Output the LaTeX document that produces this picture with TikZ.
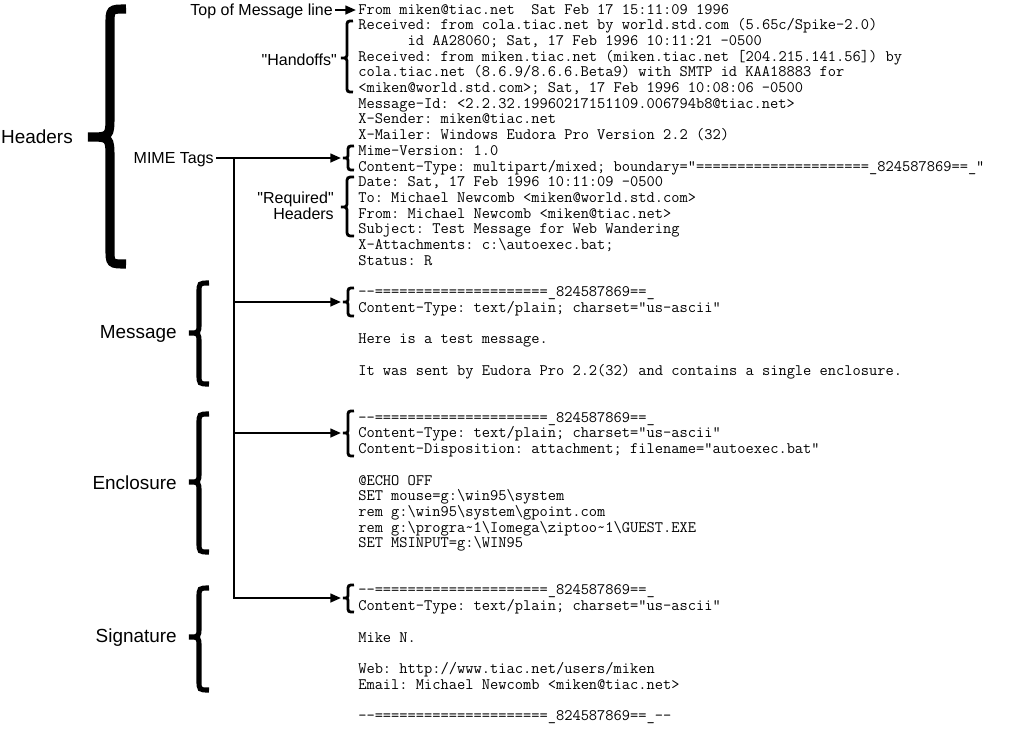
\documentclass[tikz,border=0pt]{standalone}
\usepackage{fontspec}
\setsansfont{Liberation Sans}
\usetikzlibrary{arrows.meta}
\frenchspacing
\newcommand\ml[3]{\node[mono] (#1) at (358,{14+15.7*#2}) {#3};}
% #1 style, #2 xl (tip), #3 xm (body), #4 xr (ends), #5 ytop, #6 ytip, #7 ybottom
\newcommand\mybrace[7][]{\draw[#1] (#4,#5) .. controls (#3,#5) .. (#3,{#5+#4-#3}) -- (#3,{#6-#3+#2}) .. controls (#3,#6) .. (#2,#6) .. controls (#3,#6) .. (#3,{#6+#3-#2}) -- (#3,{#7-#4+#3}) .. controls (#3,#7) .. (#4,#7);}
\tikzset{
  mono/.style={anchor=base west, inner sep=0pt, font=\ttfamily\fontsize{12}{13}\selectfont\frenchspacing},
  lab/.style={anchor=base east, inner sep=0pt, font=\sffamily\fontsize{12}{14}\selectfont},
  big/.style={anchor=base east, inner sep=0pt, font=\sffamily\fontsize{14.2}{16}\selectfont},
  conn/.style={line width=1.7pt, -{Triangle[length=8pt,width=6.5pt]}},
  bigbrace/.style={line width=6.8pt},
  midbrace/.style={line width=3.8pt},
  smallbrace/.style={line width=2.1pt}
}
\begin{document}
\begin{tikzpicture}[x=0.75pt,y=-0.75pt]
\useasboundingbox (0,0) rectangle (1021,751);
\fill[white] (0,0) rectangle (1021,751);
% mail text
\ml{l0}{0}{From miken@tiac.net\ \ Sat Feb 17 15:11:09 1996}
\ml{l1}{1}{Received: from cola.tiac.net by world.std.com (5.65c/Spike-2.0)}
\ml{l2}{2}{\phantom{123456}id AA28060; Sat, 17 Feb 1996 10:11:21 -0500}
\ml{l3}{3}{Received: from miken.tiac.net (miken.tiac.net [204.215.141.56]) by}
\ml{l4}{4}{cola.tiac.net (8.6.9/8.6.6.Beta9) with SMTP id KAA18883 for}
\ml{l5}{5}{<miken@world.std.com>; Sat, 17 Feb 1996 10:08:06 -0500}
\ml{l6}{6}{Message-Id: <2.2.32.19960217151109.006794b8@tiac.net>}
\ml{l7}{7}{X-Sender: miken@tiac.net}
\ml{l8}{8}{X-Mailer: Windows Eudora Pro Version 2.2 (32)}
\ml{l9}{9}{Mime-Version: 1.0}
\ml{l10}{10}{Content-Type: multipart/mixed; boundary="=====================\_824587869==\_"}
\ml{l11}{11}{Date: Sat, 17 Feb 1996 10:11:09 -0500}
\ml{l12}{12}{To: Michael Newcomb <miken@world.std.com>}
\ml{l13}{13}{From: Michael Newcomb <miken@tiac.net>}
\ml{l14}{14}{Subject: Test Message for Web Wandering}
\ml{l15}{15}{X-Attachments: c:\textbackslash autoexec.bat;}
\ml{l16}{16}{Status: R}
\ml{l18}{18}{--=====================\_824587869==\_}
\ml{l19}{19}{Content-Type: text/plain; charset="us-ascii"}
\ml{l21}{21}{Here is a test message.}
\ml{l23}{23}{It was sent by Eudora Pro 2.2(32) and contains a single enclosure.}
\ml{l26}{26}{--=====================\_824587869==\_}
\ml{l27}{27}{Content-Type: text/plain; charset="us-ascii"}
\ml{l28}{28}{Content-Disposition: attachment; filename="autoexec.bat"}
\ml{l30}{30}{@ECHO OFF}
\ml{l31}{31}{SET mouse=g:\textbackslash win95\textbackslash system}
\ml{l32}{32}{rem g:\textbackslash win95\textbackslash system\textbackslash gpoint.com}
\ml{l33}{33}{rem g:\textbackslash progra\textasciitilde 1\textbackslash Iomega\textbackslash ziptoo\textasciitilde 1\textbackslash GUEST.EXE}
\ml{l34}{34}{SET MSINPUT=g:\textbackslash WIN95}
\ml{l37}{37}{--=====================\_824587869==\_}
\ml{l38}{38}{Content-Type: text/plain; charset="us-ascii"}
\ml{l40}{40}{Mike N.}
\ml{l42}{42}{Web: http://www.tiac.net/users/miken}
\ml{l43}{43}{Email: Michael Newcomb <miken@tiac.net>}
\ml{l45}{45}{--=====================\_824587869==\_--}
% labels
\node[lab] (topl) at (333,15) {Top of Message line};
\node[lab] (hand) at (337,65) {\textquotedbl Handoffs\textquotedbl};
\node[lab] (mime) at (214,163) {MIME Tags};
\node[lab] (req1) at (334,203) {\textquotedbl Required\textquotedbl};
\node[lab] (req2) at (334,219) {Headers};
\node[big] (hdr) at (73,143) {Headers};
\node[big] (msg) at (177,338) {Message};
\node[big] (enc) at (177,489) {Enclosure};
\node[big] (sig) at (177,642) {Signature};
% braces
\mybrace[bigbrace]{88}{110}{126}{9}{137}{264}
\mybrace[midbrace]{189}{199}{209}{283}{333}{384}
\mybrace[midbrace]{189}{199}{209}{414}{482}{552}
\mybrace[midbrace]{189}{199}{209}{588}{637}{690}
\mybrace[smallbrace]{341}{347}{353}{21}{58}{92}
\mybrace[smallbrace]{343}{348}{354}{146}{158}{170}
\mybrace[smallbrace]{341}{347}{354}{177}{207}{236}
\mybrace[smallbrace]{343}{348}{354}{288}{302}{316}
\mybrace[smallbrace]{343}{348}{354}{411}{433}{456}
\mybrace[smallbrace]{343}{348}{354}{585}{598}{612}
% connectors
\coordinate (ttop) at (356,10);
\coordinate (tmime) at (341,158);
\coordinate (tmsg) at (341,302);
\coordinate (tenc) at (341,433);
\coordinate (tsig) at (341,598);
\coordinate (jtop) at (234,158);
\coordinate (jbot) at (234,598);
\draw[conn] ([xshift=1.5pt]topl.east |- ttop) -- (ttop);
\draw[conn] ([xshift=1.5pt]mime.east |- tmime) -- (tmime);
\draw[conn] (jtop) -- (jbot) -- (tsig);
\draw[conn] (jtop |- tmsg) -- (tmsg);
\draw[conn] (jtop |- tenc) -- (tenc);
\end{tikzpicture}
\end{document}
